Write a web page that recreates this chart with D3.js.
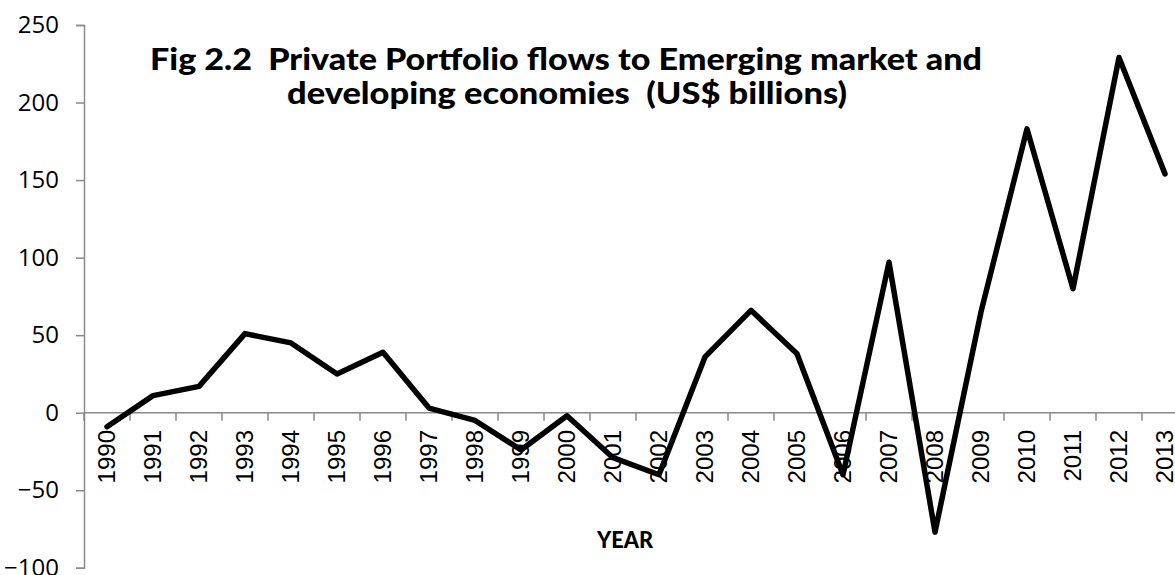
<!DOCTYPE html>
<html>
<head>
<meta charset="utf-8">
<script src="https://cdn.jsdelivr.net/npm/d3@7"></script>
<style>
  html, body { margin: 0; padding: 0; background: #fff; overflow: hidden; }
  svg { display: block; }
</style>
</head>
<body>
<svg id="chart" width="1175" height="575"></svg>
<script>
const years = [1990,1991,1992,1993,1994,1995,1996,1997,1998,1999,2000,2001,2002,2003,2004,2005,2006,2007,2008,2009,2010,2011,2012,2013];
const flows = [-9,11,17,51,45,25,39,3,-5,-24,-2,-29,-40,36,66,38,-40,97,-77,65,183,80,229,154];
const yTicks = [-100,-50,0,50,100,150,200,250];
const titleLines = ["Fig 2.2  Private Portfolio flows to Emerging market and", "developing economies  (US$ billions)"];
const xTitle = "YEAR";

const svg = d3.select("#chart");
const axisColor = "#8a8a8a";

const x = d3.scaleBand().domain(years).range([84, 1188]).paddingInner(0).paddingOuter(0);
const y = d3.scaleLinear().domain([-100, 250]).range([567.8, 25]);

// Y axis
const yAxis = d3.axisLeft(y).tickValues(yTicks).tickSize(8).tickPadding(17).tickFormat(d3.format("d"));
const gy = svg.append("g").attr("transform", "translate(84,0)").call(yAxis);
gy.select(".domain").attr("stroke", axisColor).attr("stroke-width", 1.5);
gy.selectAll(".tick line").attr("stroke", axisColor).attr("stroke-width", 1.5);
gy.selectAll(".tick text")
  .attr("fill", "#000")
  .style("font-family", "'Open Sans', sans-serif")
  .style("font-size", "24px");

// X axis line at zero
const y0 = y(0);
svg.append("line")
  .attr("x1", x.range()[0]).attr("x2", x.range()[1])
  .attr("y1", y0).attr("y2", y0)
  .attr("stroke", axisColor).attr("stroke-width", 1.5);

// X tick marks at category boundaries
const boundaries = years.map(d => x(d)).concat([x(years[years.length-1]) + x.bandwidth()]);
svg.append("g").selectAll("line").data(boundaries).join("line")
  .attr("x1", d => d).attr("x2", d => d)
  .attr("y1", y0).attr("y2", y0 + 8)
  .attr("stroke", axisColor).attr("stroke-width", 1.5);

// X labels rotated
svg.append("g").selectAll("text").data(years).join("text")
  .attr("transform", d => `translate(${x(d) + x.bandwidth()/2},430) rotate(-90)`)
  .attr("text-anchor", "end")
  .attr("dy", "0.35em")
  .style("font-family", "'Liberation Sans', Arial, sans-serif")
  .style("font-size", "24px")
  .attr("fill", "#000")
  .text(d => d);

// Line
const line = d3.line()
  .x((d, i) => x(years[i]) + x.bandwidth()/2)
  .y(d => y(d));
svg.append("path")
  .datum(flows)
  .attr("d", line)
  .attr("fill", "none")
  .attr("stroke", "#000")
  .attr("stroke-width", 5.5)
  .attr("stroke-linejoin", "round")
  .attr("stroke-linecap", "round");

// Title
const titleSpecs = [
  { x: 150, y: 70, w: 832 },
  { x: 287, y: 104, w: 560 }
];
svg.append("g").selectAll("text").data(titleLines).join("text")
  .attr("x", (d, i) => titleSpecs[i].x)
  .attr("y", (d, i) => titleSpecs[i].y)
  .attr("textLength", (d, i) => titleSpecs[i].w)
  .attr("lengthAdjust", "spacingAndGlyphs")
  .style("white-space", "pre")
  .style("font-family", "Lato, 'Open Sans', sans-serif")
  .style("font-weight", "900")
  .style("font-size", "30px")
  .attr("fill", "#000")
  .text(d => d);

// X axis title
svg.append("text")
  .attr("x", 597).attr("y", 548)
  .attr("textLength", 56)
  .attr("lengthAdjust", "spacingAndGlyphs")
  .style("font-family", "Lato, 'Open Sans', sans-serif")
  .style("font-weight", "900")
  .style("font-size", "22px")
  .attr("fill", "#000")
  .text(xTitle);
</script>
</body>
</html>
